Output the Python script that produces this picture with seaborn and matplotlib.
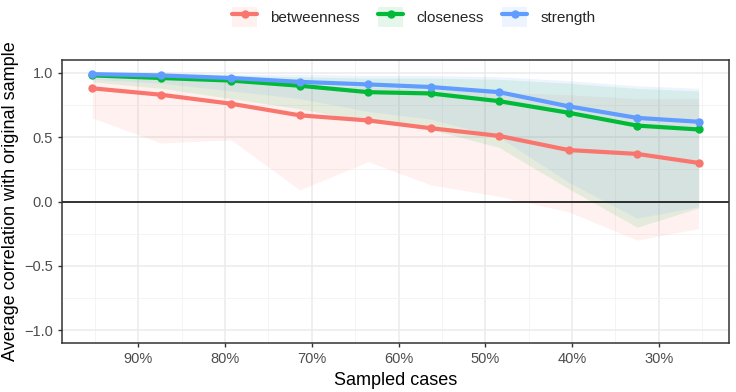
import numpy as np
import pandas as pd
import matplotlib
matplotlib.use('Agg')
import matplotlib.pyplot as plt
from matplotlib.patches import Patch
from matplotlib.lines import Line2D
from matplotlib.ticker import MultipleLocator, FuncFormatter
import seaborn as sns

sns.set_style('white')
plt.rcParams['font.family'] = ['Liberation Sans', 'DejaVu Sans']

# percentage of cases sampled at each step
sampled = [95.3, 87.4, 79.3, 71.4, 63.5, 56.3, 48.4, 40.4, 32.5, 25.4]

# average correlation with the original sample
betweenness = [0.88, 0.83, 0.76, 0.67, 0.63, 0.57, 0.51, 0.40, 0.37, 0.30]
closeness = [0.98, 0.96, 0.94, 0.90, 0.85, 0.84, 0.78, 0.69, 0.59, 0.56]
strength = [0.99, 0.98, 0.96, 0.93, 0.91, 0.89, 0.85, 0.74, 0.65, 0.62]

# quantile ribbons
betweenness_lo = [0.65, 0.455, 0.48, 0.09, 0.31, 0.13, 0.04, -0.08, -0.30, -0.21]
betweenness_hi = [0.96, 0.95, 0.93, 0.91, 0.89, 0.87, 0.85, 0.83, 0.80, 0.80]
closeness_lo = [0.93, 0.88, 0.80, 0.72, 0.62, 0.56, 0.42, 0.10, -0.20, -0.05]
closeness_hi = [0.99, 0.99, 0.98, 0.97, 0.96, 0.96, 0.95, 0.92, 0.88, 0.86]
strength_lo = [0.95, 0.92, 0.86, 0.80, 0.70, 0.64, 0.50, 0.15, -0.13, -0.04]
strength_hi = [1.00, 1.00, 0.99, 0.99, 0.98, 0.98, 0.97, 0.94, 0.90, 0.88]

measures = ['betweenness', 'closeness', 'strength']
colors = ['#F8766D', '#00BA38', '#619CFF']

df = pd.DataFrame({
    'sampled': sampled * 3,
    'corr': betweenness + closeness + strength,
    'type': np.repeat(measures, len(sampled)),
})
ribbons = {
    'betweenness': (betweenness_lo, betweenness_hi),
    'closeness': (closeness_lo, closeness_hi),
    'strength': (strength_lo, strength_hi),
}

fig, ax = plt.subplots(figsize=(7.36, 3.92), dpi=100)
fig.subplots_adjust(left=62/736, right=729/736, top=1-60/392, bottom=1-343/392)

# grid like theme_bw
ax.xaxis.set_major_locator(MultipleLocator(10))
ax.xaxis.set_minor_locator(MultipleLocator(5))
ax.yaxis.set_major_locator(MultipleLocator(0.5))
ax.yaxis.set_minor_locator(MultipleLocator(0.25))
ax.grid(which='major', color='#EBEBEB', linewidth=1.1)
ax.grid(which='minor', color='#F3F3F3', linewidth=0.6)
ax.set_axisbelow(True)

for m, c in zip(measures, colors):
    lo, hi = ribbons[m]
    ax.fill_between(sampled, lo, hi, color=c, alpha=0.1, linewidth=0)

ax.axhline(0, color='black', linewidth=1.1, zorder=2)

sns.lineplot(data=df, x='sampled', y='corr', hue='type', palette=colors,
             marker='o', markersize=6, markeredgewidth=0, linewidth=3,
             legend=False, ax=ax, zorder=3)

ax.set_xlim(98.8, 21.9)
ax.set_ylim(-1.1, 1.1)
ax.set_xticks([90, 80, 70, 60, 50, 40, 30])
ax.xaxis.set_major_formatter(FuncFormatter(lambda v, p: '%d%%' % v))
ax.yaxis.set_major_formatter(FuncFormatter(lambda v, p: ('%.1f' % v).replace('-', '\u2212')))
ax.tick_params(axis='both', which='major', labelsize=10.5, labelcolor='#4D4D4D',
               length=3, width=1, color='#333333', direction='out')
ax.tick_params(axis='x', which='major', bottom=True)
ax.tick_params(axis='y', which='major', left=True)
ax.tick_params(which='minor', length=0)
for s in ax.spines.values():
    s.set_color('#333333')
    s.set_linewidth(1.1)

ax.set_xlabel('Sampled cases', fontsize=13, color='black')
ax.set_ylabel('Average correlation with original sample', fontsize=13, color='black')

handles = []
for c in colors:
    handles.append((Patch(facecolor=c, alpha=0.1, edgecolor='none'),
                    Line2D([], [], color=c, linewidth=3, marker='o', markersize=6,
                           markeredgewidth=0)))
leg = fig.legend(handles, measures, loc='center', bbox_to_anchor=(414/736, 1-17/392),
                 ncol=3, frameon=False, fontsize=11, handlelength=1.6,
                 handleheight=1.7, columnspacing=1.2, handletextpad=0.9)

fig.savefig('out.png', dpi=100)
